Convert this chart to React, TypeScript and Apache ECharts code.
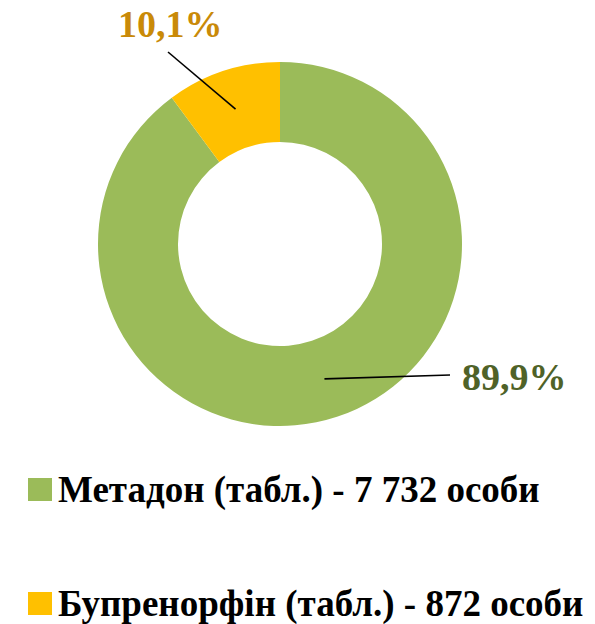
import React, { useEffect, useRef } from "react";
import * as echarts from "echarts";

const categories = ["Метадон (табл.)", "Бупренорфін (табл.)"];
const persons = [7732, 872];
const colors = ["#9BBB59", "#FFC000"];
const labelColors = ["#4F6228", "#C98A08"];
const unit = "особи";

const FONT = "'Liberation Serif', 'Times New Roman', serif";

export default function App() {
  const ref = useRef<HTMLDivElement>(null);
  useEffect(() => {
    document.body.style.margin = "0";
    const el = ref.current!;
    const chart = echarts.init(el, null, { renderer: "svg" });
    const total = persons.reduce((a, b) => a + b, 0);
    const cx = 280, cy = 244, rIn = 102, rOut = 182;
    const fmtNum = (v: number) => String(v).replace(/\B(?=(\d{3})+(?!\d))/g, " ");
    const pct = (v: number) => ((v / total) * 100).toFixed(1).replace(".", ",");
    const midPoint = (i: number) => {
      let before = 0;
      for (let k = 0; k < i; k++) before += persons[k];
      const mid = (before + persons[i] / 2) / total;
      const a = ((90 - mid * 360) * Math.PI) / 180;
      const r = (rIn + rOut) / 2;
      return [cx + r * Math.cos(a), cy - r * Math.sin(a)];
    };
    const labelPos = [
      { x: 462, y: 377, end: [450, 375] },
      { x: 118, y: 24, end: [168, 52] },
    ];
    const legendTops = [471, 585];
    const legendText = (name: string) => {
      const i = categories.indexOf(name);
      return `${name} - ${fmtNum(persons[i])} ${unit}`;
    };
    chart.setOption({
      animation: false,
      graphic: [
        {
          type: "text",
          left: 306,
          top: -35,
          style: { text: "(%)", font: `bold 32px ${FONT}`, fill: "#000" },
        },
        ...categories.map((_, i) => ({
          type: "polyline",
          z: 100,
          shape: { points: [midPoint(i), labelPos[i].end] },
          style: { stroke: "#000", lineWidth: 1.6, fill: "none" },
        })),
      ],
      legend: categories.map((name, i) => ({
        orient: "vertical",
        left: 28,
        top: legendTops[i],
        padding: 0,
        itemWidth: 24,
        itemHeight: 23,
        icon: "rect",
        data: [name],
        formatter: legendText,
        textStyle: {
          fontFamily: FONT,
          fontWeight: "bold",
          fontSize: 37,
          lineHeight: 30,
          color: "#000",
          padding: [0, 0, 0, 1],
        },
      })),
      series: [
        {
          type: "pie",
          center: [cx, cy],
          radius: [rIn, rOut],
          startAngle: 90,
          clockwise: true,
          avoidLabelOverlap: false,
          itemStyle: { borderWidth: 0 },
          label: {
            show: true,
            position: "outside",
            fontFamily: FONT,
            fontWeight: "bold",
            fontSize: 38,
            formatter: (p: any) => `${pct(p.value)}%`,
          },
          labelLine: { show: false },
          labelLayout: (p: any) => {
            const lp = labelPos[p.dataIndex];
            return { x: lp.x, y: lp.y, align: "left", verticalAlign: "middle" };
          },
          data: categories.map((name, i) => ({
            name,
            value: persons[i],
            itemStyle: { color: colors[i] },
            label: { color: labelColors[i] },
          })),
        },
      ],
    });
    return () => chart.dispose();
  }, []);
  return <div ref={ref} style={{ width: 595, height: 624 }} />;
}
